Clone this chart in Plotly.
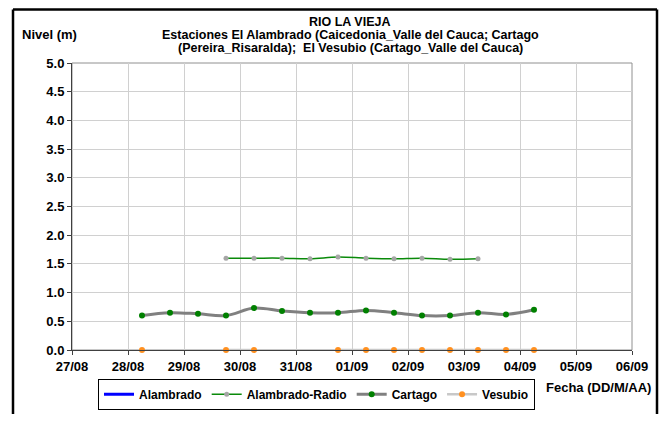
import plotly.graph_objects as go

# ---- data ----
times = [
    "2010-08-28 06:00", "2010-08-28 18:00", "2010-08-29 06:00", "2010-08-29 18:00",
    "2010-08-30 06:00", "2010-08-30 18:00", "2010-08-31 06:00", "2010-08-31 18:00",
    "2010-09-01 06:00", "2010-09-01 18:00", "2010-09-02 06:00", "2010-09-02 18:00",
    "2010-09-03 06:00", "2010-09-03 18:00", "2010-09-04 06:00",
]
cartago = [0.60, 0.65, 0.63, 0.60, 0.73, 0.68, 0.65, 0.65, 0.69, 0.65, 0.60, 0.60, 0.65, 0.62, 0.70]
radio_times = times[3:13]
alambrado_radio = [1.60, 1.60, 1.60, 1.59, 1.62, 1.60, 1.59, 1.60, 1.58, 1.59]
vesubio = [0.0, None, None, 0.0, 0.0, None, None, 0.0, 0.0, 0.0, 0.0, 0.0, 0.0, 0.0, 0.0]
alambrado_times = [None]
alambrado = [None]

x_tick_vals = ["2010-08-27", "2010-08-28", "2010-08-29", "2010-08-30", "2010-08-31", "2010-09-01",
               "2010-09-02", "2010-09-03", "2010-09-04", "2010-09-05", "2010-09-06"]
x_tick_text = ["27/08", "28/08", "29/08", "30/08", "31/08", "01/09", "02/09", "03/09", "04/09", "05/09", "06/09"]
y_tick_vals = [0.0, 0.5, 1.0, 1.5, 2.0, 2.5, 3.0, 3.5, 4.0, 4.5, 5.0]

FONT = "Liberation Sans, Arial, sans-serif"

fig = go.Figure()
fig.add_trace(go.Scatter(x=alambrado_times, y=alambrado, name="<b>Alambrado</b>", mode="lines",
                         line=dict(color="#0000ff", width=3)))
fig.add_trace(go.Scatter(x=radio_times, y=alambrado_radio, name="<b>Alambrado-Radio</b>", mode="lines+markers",
                         line=dict(color="#0a8a0a", width=1.5, shape="spline"),
                         marker=dict(color="#a6a6a6", size=5), cliponaxis=False))
fig.add_trace(go.Scatter(x=times, y=cartago, name="<b>Cartago</b>", mode="lines+markers",
                         line=dict(color="#808080", width=3, shape="spline"),
                         marker=dict(color="#008000", size=6), cliponaxis=False))
fig.add_trace(go.Scatter(x=times, y=vesubio, name="<b>Vesubio</b>", mode="lines+markers",
                         line=dict(color="#c8c8c8", width=2.5), connectgaps=False,
                         marker=dict(color="#ff9020", size=6), cliponaxis=False))

W, H = 664, 422
L, R, T, B = 72, 632, 63, 363

def px(x):
    return (x - L) / (R - L)

def py(y):
    return (B - y) / (B - T)

annotations = [
    dict(text="<b>RIO LA VIEJA</b>", x=px(350), y=py(20.5), size=12.5),
    dict(text="<b>Estaciones El Alambrado (Caicedonia_Valle del Cauca; Cartago</b>", x=px(350), y=py(34), size=12.5),
    dict(text="<b>(Pereira_Risaralda);  El Vesubio (Cartago_Valle del Cauca)</b>", x=px(350), y=py(47.5), size=12.5),
    dict(text="<b>Nivel (m)</b>", x=px(49), y=py(33), size=13),
    dict(text="<b>Fecha (DD/M/AA)</b>", x=px(598), y=py(402), size=13),
]
for a in annotations:
    s = a.pop("size")
    a.update(xref="paper", yref="paper", showarrow=False, xanchor="center", yanchor="middle",
             font=dict(family=FONT, size=s, color="black"))

fig.update_layout(
    width=W, height=H,
    margin=dict(l=L, r=W - R, t=T, b=H - B, pad=0),
    paper_bgcolor="white", plot_bgcolor="white",
    font=dict(family=FONT, size=12, color="black"),
    showlegend=True,
    legend=dict(orientation="h", x=px(98), y=py(393), xanchor="left", yanchor="top",
                bordercolor="black", borderwidth=1, bgcolor="white",
                font=dict(family=FONT, size=12, color="black"),
                itemwidth=30, tracegroupgap=0),
    annotations=annotations,
    shapes=[
        dict(type="line", xref="paper", yref="paper", x0=px(13), x1=px(13), y0=py(7), y1=py(430),
             line=dict(color="black", width=2.5)),
        dict(type="line", xref="paper", yref="paper", x0=px(657), x1=px(657), y0=py(7), y1=py(430),
             line=dict(color="black", width=2.5)),
        dict(type="line", xref="paper", yref="paper", x0=px(13), x1=px(657), y0=py(7), y1=py(7),
             line=dict(color="black", width=2.5)),
        dict(type="rect", xref="paper", yref="paper", x0=0, x1=1, y0=0, y1=1,
             line=dict(color="#909090", width=1), layer="below"),
    ],
)

fig.update_xaxes(
    type="date", range=["2010-08-27", "2010-09-06"],
    tickvals=x_tick_vals, ticktext=["<b>%s</b>" % t for t in x_tick_text],
    showgrid=True, gridcolor="#d0d0d0", gridwidth=1,
    showline=True, linecolor="#404040", linewidth=1,
    ticks="outside", ticklen=4, tickcolor="#404040",
    tickfont=dict(family=FONT, size=13, color="black"),
    zeroline=False, fixedrange=True,
)
fig.update_yaxes(
    range=[0, 5], tickvals=y_tick_vals, ticktext=["<b>%.1f</b>" % v for v in y_tick_vals],
    showgrid=True, gridcolor="#d0d0d0", gridwidth=1,
    showline=True, linecolor="#404040", linewidth=1,
    ticks="outside", ticklen=4, tickcolor="#404040",
    tickfont=dict(family=FONT, size=13, color="black"),
    zeroline=False, fixedrange=True,
)

fig.write_html("out.html", config={"displayModeBar": False},
               post_script="document.body.style.margin='0';document.body.style.overflow='hidden';")
